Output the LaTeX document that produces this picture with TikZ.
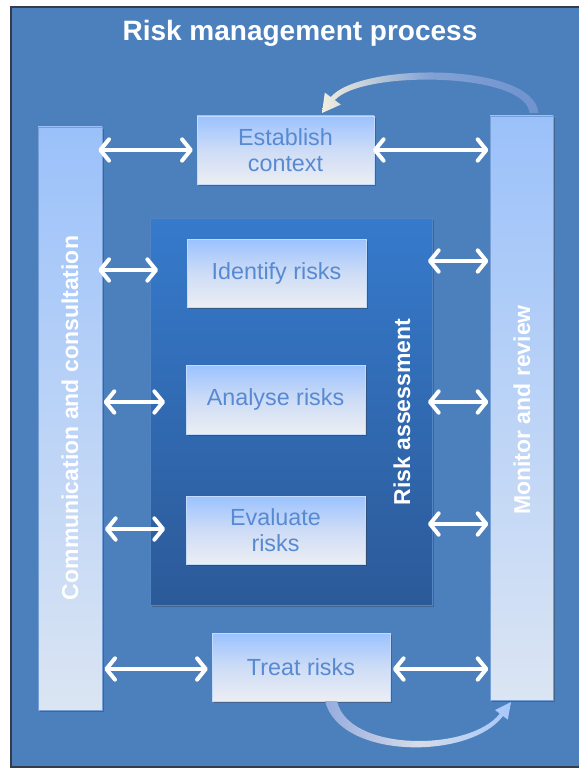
\documentclass[tikz,border=0pt]{standalone}
\usepackage{fontspec}
\setmainfont{Liberation Sans}
\usetikzlibrary{arrows.meta,shadows,calc}
\definecolor{bg}{RGB}{76,128,188}
\definecolor{frameline}{RGB}{50,60,75}
\definecolor{boxtop}{RGB}{155,194,255}
\definecolor{boxmid}{RGB}{205,220,246}
\definecolor{boxbot}{RGB}{236,238,243}
\definecolor{boxtext}{RGB}{88,138,210}
\definecolor{bartop}{RGB}{155,193,250}
\definecolor{barbot}{RGB}{219,229,243}
\definecolor{baredge}{RGB}{120,160,215}
\definecolor{paneltop}{RGB}{54,122,204}
\definecolor{panelbot}{RGB}{44,90,152}
\definecolor{paneledge}{RGB}{82,132,196}
\definecolor{cream}{RGB}{240,238,222}
\definecolor{arcblue}{RGB}{112,146,206}
\definecolor{arcmid}{RGB}{130,162,212}
\definecolor{lowleft}{RGB}{150,172,222}
\definecolor{lowmid}{RGB}{214,220,232}
\definecolor{lowright}{RGB}{165,200,252}
\tikzset{
  shad/.style={drop shadow={shadow xshift=1.5pt,shadow yshift=-1.5pt,opacity=0.35,fill=black!80}},
  stepbox/.style={shad,top color=boxtop,bottom color=boxbot,middle color=boxmid,
    draw=boxtop!60!white,line width=0.4pt,text=boxtext,align=center,
    font=\fontsize{17.5}{20}\selectfont,inner sep=0pt,minimum height=51pt},
  sidebar/.style={shad,top color=bartop,bottom color=barbot,draw=baredge,line width=0.5pt,
    inner sep=0pt,minimum width=48pt},
  vlabel/.style={text=white,font=\bfseries\fontsize{17.25}{20}\selectfont,rotate=90},
  dbl/.style={white,line width=3pt,
    {Straight Barb[length=6.5pt,width=16pt,round]}-{Straight Barb[length=6.5pt,width=16pt,round]}}
}
\begin{document}
\begin{tikzpicture}[x=0.75pt,y=-0.75pt]
\useasboundingbox (0,0) rectangle (578,770);
\fill[white] (0,0) rectangle (578,770);
\filldraw[fill=bg,draw=frameline,line width=1.5pt] (11,7) rectangle (590,767);

% title
\node[text=white,font=\bfseries\fontsize{21}{24}\selectfont] (title) at (300,33) {Risk management process};

% side bars
\node[sidebar,minimum height=437.25pt] (lbar) at (70,418.5) {};
\node[sidebar,minimum width=47.25pt,minimum height=438pt] (rbar) at (521.5,408) {};
\node[vlabel] (lbl) at (70,418) {Communication and consultation};
\node[vlabel] (rbl) at (522,410) {Monitor and review};

% risk assessment panel
\node[shad,top color=paneltop,bottom color=panelbot,draw=paneledge,line width=0.6pt,
  minimum width=211.5pt,minimum height=290.25pt,inner sep=0pt] (panel) at (291,411.5) {};
\node[vlabel] (pl) at (402,412) {Risk assessment};

% step boxes
\node[stepbox,minimum width=132.75pt] (est) at (285.5,150) {Establish\\context};
\node[stepbox,minimum width=134.25pt] (idr) at (276.5,273) {Identify risks};
\node[stepbox,minimum width=134.25pt,minimum height=51.75pt] (anr) at (275.5,399.5) {Analyse risks};
\node[stepbox,minimum width=134.25pt] (evr) at (275.5,530) {Evaluate\\risks};
\node[stepbox,minimum width=133.5pt] (trr) at (301,667) {Treat risks};

% arrow end points inside the panel
\coordinate (pL1) at (158,270);
\coordinate (pL2) at (165,402);
\coordinate (pL3) at (165,529);
\coordinate (pR1) at (428,261);
\coordinate (pR2) at (428,402);
\coordinate (pR3) at (428,524);

% double arrows
\draw[dbl] ([xshift=-3pt]lbar.east |- est.west) -- ([xshift=-3pt]est.west);
\draw[dbl] ([xshift=-1pt]est.east) -- ([xshift=-1pt]rbar.west |- est.east);
\draw[dbl] ([xshift=-3pt]lbar.east |- pL1) -- (pL1);
\draw[dbl] ([xshift=1pt]lbar.east |- pL2) -- (pL2);
\draw[dbl] ([xshift=2pt]lbar.east |- pL3) -- (pL3);
\draw[dbl] (pR1) -- ([xshift=-1pt]rbar.west |- pR1);
\draw[dbl] (pR2) -- ([xshift=-1pt]rbar.west |- pR2);
\draw[dbl] (pR3) -- ([xshift=-1pt]rbar.west |- pR3);
\draw[dbl] ([xshift=1.5pt]lbar.east |- 0,669) -- ([xshift=-3pt]trr.west |- 0,669);
\draw[dbl] ([xshift=2pt]trr.east |- 0,669) -- ([xshift=-1pt]rbar.west |- 0,669);

% curved arrow: monitor -> establish context
\shade[left color=cream,right color=arcblue,middle color=arcmid]
  (538.5,113) .. controls (534,62) and (360,62) .. (330.8,97.1)
  -- (324.8,92.6) -- (322,113) -- (340.8,104.6) -- (334.8,100.1)
  .. controls (362,70) and (526,72) .. (529.5,113) -- cycle;

% curved arrow: treat risks -> monitor
\shade[left color=lowleft,right color=lowright,middle color=lowmid]
  (325,701) .. controls (340,760) and (470,760) .. (503,716)
  -- (507.8,719.6) -- (511,702) -- (495,710) -- (499.8,713.6)
  .. controls (470,752) and (348,752) .. (337,701) -- cycle;
\end{tikzpicture}
\end{document}
